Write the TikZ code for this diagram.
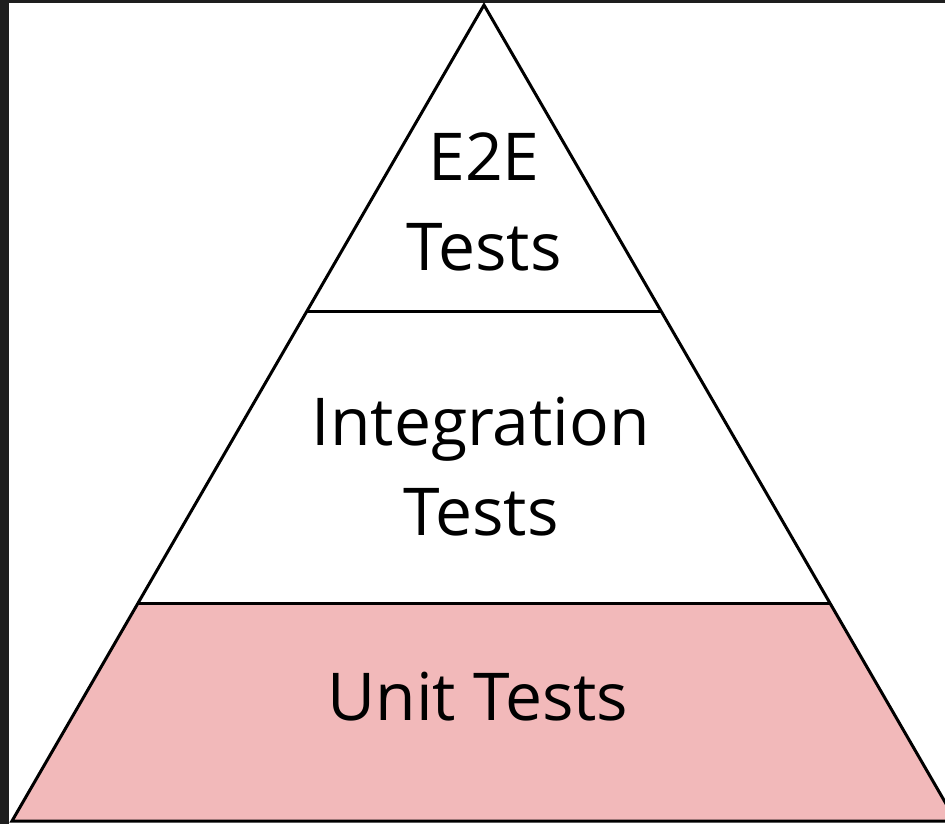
\documentclass[tikz,border=0pt]{standalone}
\usepackage{fontspec}
\setmainfont{Open Sans}
\usepackage{xcolor}
\usetikzlibrary{calc}
\definecolor{frame}{RGB}{30,30,30}
\definecolor{unitpink}{RGB}{242,185,186}

\begin{document}
\begin{tikzpicture}[x=1pt, y=-1pt, line width=3pt,
  label/.style={align=center, font=\fontsize{66}{90}\selectfont}]
  % Page
  \useasboundingbox (0,0) rectangle (945,824);
  \fill[frame] (0,0) rectangle (945,824);
  \fill[white] (9,3) rectangle (945,824);
  \clip (9,3) rectangle (945,824);

  % Pyramid corners
  \coordinate (apex) at (484,5);
  \coordinate (bl) at (12,821);
  \coordinate (br) at (956,821);
  \coordinate (ml) at ($(apex)!0.376!(bl)$);
  \coordinate (mr) at ($(apex)!0.376!(br)$);
  \coordinate (ll) at ($(apex)!0.734!(bl)$);
  \coordinate (lr) at ($(apex)!0.734!(br)$);

  % Unit level
  \fill[unitpink] (ll) -- (lr) -- (br) -- (bl) -- cycle;

  % Outline and levels
  \draw[line join=miter] (bl) -- (apex) -- (br) -- cycle;
  \draw (ml) -- (mr);
  \draw (ll) -- (lr);

  % Labels
  \node[label] (e2e) at (484,202) {E2E\\Tests};
  \node[label] (integration) at (481,467) {Integration\\Tests};
  \node[label] (unit) at (478,697) {Unit Tests};
\end{tikzpicture}
\end{document}
